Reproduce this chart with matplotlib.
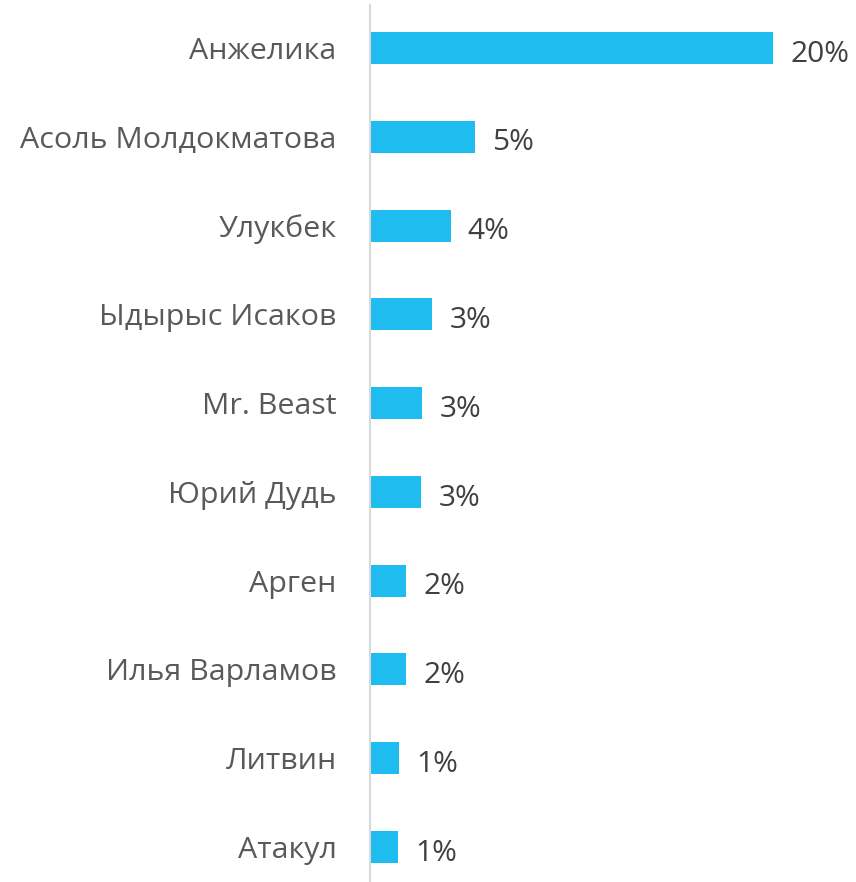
import matplotlib
matplotlib.use("Agg")
import matplotlib.pyplot as plt

# data
names = ["Анжелика", "Асоль Молдокматова", "Улукбек", "Ыдырыс Исаков", "Mr. Beast",
         "Юрий Дудь", "Арген", "Илья Варламов", "Литвин", "Атакул"]
values = [20.0, 5.2, 4.0, 3.1, 2.6, 2.55, 1.8, 1.8, 1.45, 1.4]

plt.rcParams["font.family"] = ["Open Sans", "DejaVu Sans"]

fig = plt.figure(figsize=(8.56, 8.82), dpi=100)
ax = fig.add_axes([370 / 856, 0.0, (773 - 370) / 856, 1 - 5 / 882])

pos = list(range(len(names)))
ax.barh(pos, values, height=0.36, color="#1FBCEF", left=0)
ax.set_xlim(0, 20)
ax.set_ylim(9.394, -0.484)

for p, v in zip(pos, values):
    ax.text(v + 0.85, p + 0.03, f"{v:.0f}%", va="center_baseline", ha="left", fontsize=21.5,
            color="#404040", clip_on=False)

ax.set_yticks(pos)
ax.set_yticklabels(names, fontsize=21.9, color="#595959")
ax.tick_params(axis="y", length=0, pad=24)
ax.set_xticks([])
for s in ["top", "right", "bottom"]:
    ax.spines[s].set_visible(False)
ax.spines["left"].set_color("#D9D9D9")
ax.spines["left"].set_linewidth(1.5)

fig.savefig("out.png", dpi=100)
